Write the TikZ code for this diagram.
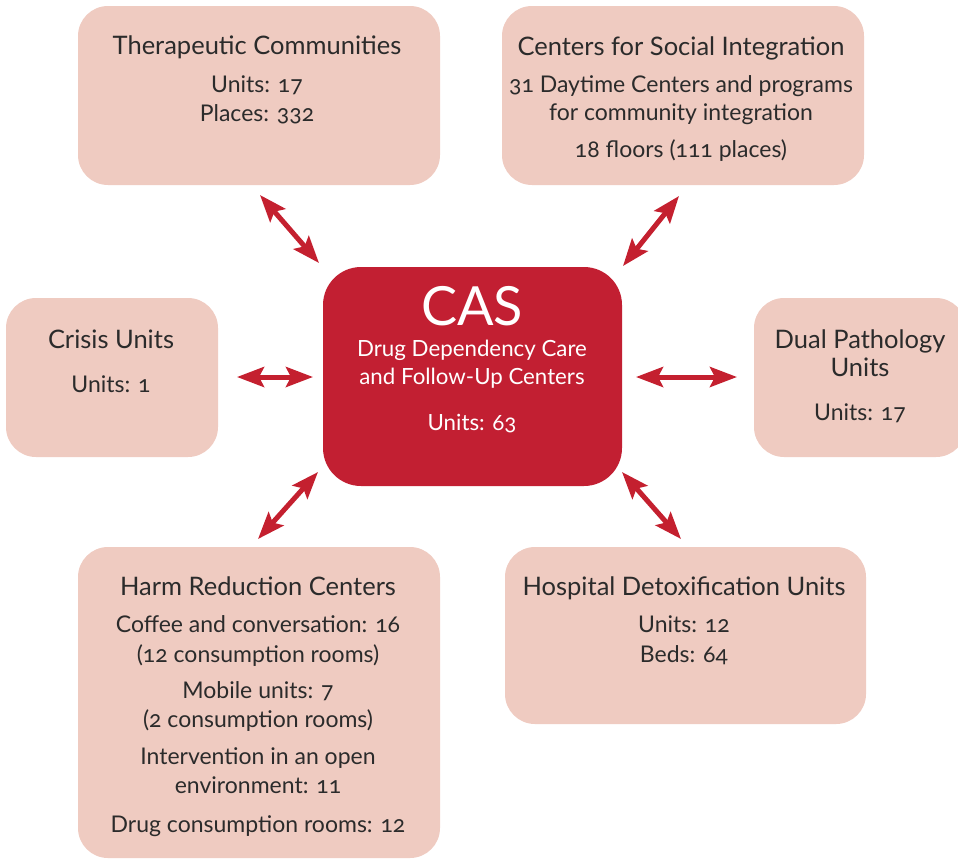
\documentclass[tikz,border=0pt]{standalone}
\usepackage{fontspec}
\setmainfont[Numbers=OldStyle]{Lato}
\usetikzlibrary{arrows.meta}
\definecolor{boxfill}{HTML}{EFCBC1}
\definecolor{casred}{HTML}{C21F32}
\definecolor{arrred}{HTML}{C4202F}
\definecolor{txt}{HTML}{2B2B2B}
\tikzset{
  x=1pt, y=-1pt,
  pinkbox/.style={draw=none, fill=boxfill, rounded corners=30pt},
  redbox/.style={draw=none, fill=casred, rounded corners=38pt},
  ttl/.style={anchor=base, inner sep=0pt, text=txt, font=\fontsize{25.5}{28}\selectfont},
  bd/.style={anchor=base, inner sep=0pt, text=txt, font=\fontsize{23}{26}\selectfont},
  wbd/.style={anchor=base, inner sep=0pt, text=white, font=\fontsize{22.3}{26}\selectfont},
  big/.style={anchor=base, inner sep=0pt, text=white, font=\fontsize{54}{60}\selectfont},
  arr/.style={draw=arrred, line width=5pt, {Stealth[length=27pt,width=20pt,inset=5pt]}-{Stealth[length=27pt,width=20pt,inset=5pt]}}
}
\begin{document}
\begin{tikzpicture}
\useasboundingbox (0,0) rectangle (958,860);
% boxes
\path[pinkbox] (78,6) rectangle (440,185);
\path[pinkbox] (502,6) rectangle (864,185);
\path[pinkbox] (6,298) rectangle (218,457);
\path[pinkbox] (754,298) rectangle (966,457);
\path[pinkbox] (78,547) rectangle (440,858);
\path[pinkbox] (505,547) rectangle (866,724);
\path[redbox] (323,267) rectangle (622,486);
% Therapeutic Communities
\node[ttl] (tc1) at (257,54) {Therapeutic Communities};
\node[bd] (tc2) at (257,92) {Units: 17};
\node[bd] (tc3) at (257,121) {Places: 332};
% Centers for Social Integration
\node[ttl] (cs1) at (681,55) {Centers for Social Integration};
\node[bd] (cs2) at (681,92) {31 Daytime Centers and programs};
\node[bd] (cs3) at (681,120) {for community integration};
\node[bd] (cs4) at (681,157) {18 floors (111 places)};
% Crisis
\node[ttl] (cr1) at (111,348) {Crisis Units};
\node[bd] (cr2) at (111,392) {Units: 1};
% CAS
\node[big] (ca1) at (472,325) {CAS};
\node[wbd] (ca2) at (472,356) {Drug Dependency Care};
\node[wbd] (ca3) at (472,384) {and Follow-Up Centers};
\node[wbd] (ca4) at (472,430) {Units: 63};
% Dual
\node[ttl] (du1) at (860,348) {Dual Pathology};
\node[ttl] (du2) at (860,376) {Units};
\node[bd] (du3) at (860,420) {Units: 17};
% Harm reduction
\node[ttl] (hr1) at (258,595) {Harm Reduction Centers};
\node[bd] (hr2) at (258,632) {Coffee and conversation: 16};
\node[bd] (hr3) at (258,662) {(12 consumption rooms)};
\node[bd] (hr4) at (258,698) {Mobile units: 7};
\node[bd] (hr5) at (258,727) {(2 consumption rooms)};
\node[bd] (hr6) at (258,764) {Intervention in an open};
\node[bd] (hr7) at (258,793) {environment: 11};
\node[bd] (hr8) at (258,832) {Drug consumption rooms: 12};
% Hospital
\node[ttl] (hd1) at (684,595) {Hospital Detoxification Units};
\node[bd] (hd2) at (684,632) {Units: 12};
\node[bd] (hd3) at (684,662) {Beds: 64};
% arrow ends
\coordinate (a1s) at (260,195); \coordinate (a1e) at (319,263);
\coordinate (a2s) at (679,196); \coordinate (a2e) at (623,266);
\coordinate (a3s) at (237,377); \coordinate (a3e) at (313,377);
\coordinate (a4s) at (636,377); \coordinate (a4e) at (737,377);
\coordinate (a5s) at (318,472); \coordinate (a5e) at (258,539);
\coordinate (a6s) at (622,472); \coordinate (a6e) at (681,539);
\draw[arr] (a1s) -- (a1e);
\draw[arr] (a2s) -- (a2e);
\draw[arr] (a3s) -- (a3e);
\draw[arr] (a4s) -- (a4e);
\draw[arr] (a5s) -- (a5e);
\draw[arr] (a6s) -- (a6e);
\end{tikzpicture}
\end{document}
